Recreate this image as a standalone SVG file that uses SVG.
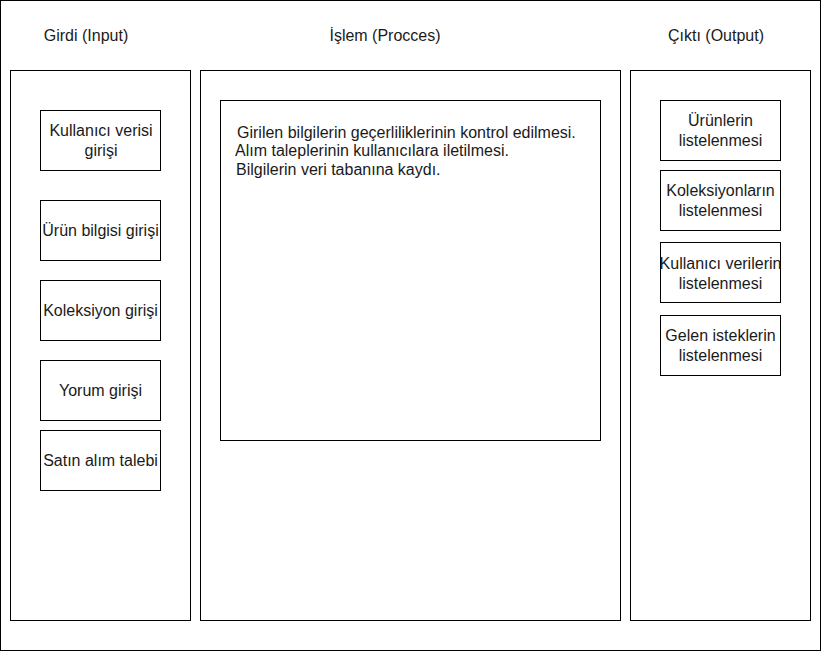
<svg xmlns="http://www.w3.org/2000/svg" width="821" height="651" viewBox="0 0 821 651">
<style>
rect{fill:#fff;stroke:#000;stroke-width:1}
text{font-family:"Liberation Sans",Arial,sans-serif;font-size:16px;fill:#1a1a1a}
.c{text-anchor:middle}
</style>
<rect x="0.5" y="0.5" width="820" height="650"/>
<g id="titles">
<text class="c" x="86" y="41">Girdi (Input)</text>
<text class="c" x="385" y="41">İşlem (Procces)</text>
<text class="c" x="716" y="41">Çıktı (Output)</text>
</g>
<g id="col-input"><rect x="10.5" y="70.5" width="180" height="550"/></g>
<g id="col-process"><rect x="200.5" y="70.5" width="420" height="550"/></g>
<g id="col-output"><rect x="630.5" y="70.5" width="180" height="550"/></g>
<g id="process">
<rect x="220.5" y="100.5" width="380" height="340"/>
<text x="237" y="138">Girilen bilgilerin geçerliliklerinin kontrol edilmesi.</text>
<text x="235" y="156">Alım taleplerinin kullanıcılara iletilmesi.</text>
<text x="236" y="175">Bilgilerin veri tabanına kaydı.</text>
</g>
<g id="in1"><rect x="40.5" y="110.5" width="120" height="60"/><text class="c" x="101" y="136">Kullanıcı verisi</text><text class="c" x="101" y="156">girişi</text></g>
<g id="in2"><rect x="40.5" y="200.5" width="120" height="60"/><text class="c" x="100.5" y="236">Ürün bilgisi girişi</text></g>
<g id="in3"><rect x="40.5" y="280.5" width="120" height="60"/><text class="c" x="100.5" y="316">Koleksiyon girişi</text></g>
<g id="in4"><rect x="40.5" y="360.5" width="120" height="60"/><text class="c" x="100.5" y="396">Yorum girişi</text></g>
<g id="in5"><rect x="40.5" y="430.5" width="120" height="60"/><text class="c" x="100.5" y="466">Satın alım talebi</text></g>
<g id="out1"><rect x="660.5" y="100.5" width="120" height="60"/><text class="c" x="720.5" y="126">Ürünlerin</text><text class="c" x="720.5" y="146">listelenmesi</text></g>
<g id="out2"><rect x="660.5" y="170.5" width="120" height="60"/><text class="c" x="720.5" y="196">Koleksiyonların</text><text class="c" x="720.5" y="216">listelenmesi</text></g>
<g id="out3"><rect x="660.5" y="242.5" width="120" height="60"/><text class="c" x="720.5" y="269">Kullanıcı verilerin</text><text class="c" x="720.5" y="289">listelenmesi</text></g>
<g id="out4"><rect x="660.5" y="315.5" width="120" height="60"/><text class="c" x="720.5" y="341">Gelen isteklerin</text><text class="c" x="720.5" y="361">listelenmesi</text></g>
<g id="connectors"></g>
</svg>
